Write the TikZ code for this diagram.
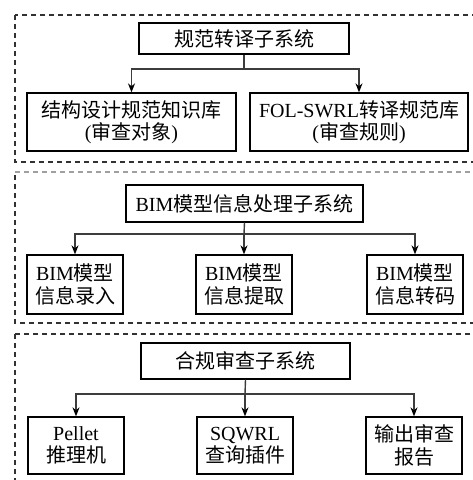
\documentclass[tikz,border=0pt]{standalone}
\usepackage{fontspec}
\setmainfont{Liberation Serif}
\newfontfamily\cjk{Noto Sans CJK SC}
\newcommand{\zh}[1]{{\cjk #1}}
\usetikzlibrary{arrows.meta}
\definecolor{linegray}{RGB}{60, 60, 60}
\definecolor{framegray}{RGB}{50, 50, 50}
\definecolor{lightframe}{RGB}{160, 160, 160}

\begin{document}
\begin{tikzpicture}[x=1pt, y=-1pt,
    box/.style={draw, line width=1.3pt, align=center, inner sep=0pt,
        font=\fontsize{20}{22.5}\selectfont},
    link/.style={linegray, line width=1.4pt},
    arr/.style={link, -{Stealth[length=9pt, width=7pt, black]}},
    frame/.style={framegray, line width=1.2pt, dash pattern=on 5pt off 4pt}]
    % Recorte da figura
    \clip (0,0) rectangle (473,480);
    \fill[white] (0,0) rectangle (473,480);

    % Molduras tracejadas
    \draw[frame] (15,15) rectangle (495,162);
    \draw[frame] (495,172) -- (495,323) -- (15,323) -- (15,172);
    \draw[frame, lightframe] (15,172) -- (495,172);
    \draw[frame] (15,334) rectangle (495,500);

    % Subsistema de tradução das normas
    \node[box, minimum width=210pt, minimum height=31pt] (trad) at (244,38.5) {\zh{规范转译子系统}};
    \node[box, minimum width=209pt, minimum height=58pt] (conh) at (131.5,122) {\zh{结构设计规范知识库}\\(\zh{审查对象})};
    \node[box, minimum width=218pt, minimum height=58pt] (regr) at (359,122) {FOL-SWRL\zh{转译规范库}\\(\zh{审查规则})};
    \coordinate (jtrad) at (244,69);
    \draw[link] (trad.south) -- (jtrad);
    \draw[arr] (jtrad) -| (conh.north);
    \draw[arr] (jtrad) -| (regr.north);

    % Subsistema de informação do modelo BIM
    \node[box, minimum width=237pt, minimum height=37pt] (bim) at (244.5,203.5) {BIM\zh{模型信息处理子系统}};
    \node[box, minimum width=96pt, minimum height=59pt] (entr) at (75,284.5) {BIM\zh{模型}\\\zh{信息录入}};
    \node[box, minimum width=96pt, minimum height=59pt] (extr) at (244,284.5) {BIM\zh{模型}\\\zh{信息提取}};
    \node[box, minimum width=96pt, minimum height=59pt] (conv) at (415,284.5) {BIM\zh{模型}\\\zh{信息转码}};
    \coordinate (jbim) at (244,234);
    \draw[link] (bim.south) -- (jbim);
    \draw[arr] (jbim) -| (entr.north);
    \draw[arr] (jbim) -- (extr.north);
    \draw[arr] (jbim) -| (conv.north);

    % Subsistema de verificação de conformidade
    \node[box, minimum width=209pt, minimum height=36pt] (verif) at (245.5,361) {\zh{合规审查子系统}};
    \node[box, minimum width=96pt, minimum height=57pt] (pell) at (76,445.5) {Pellet\\\zh{推理机}};
    \node[box, minimum width=96pt, minimum height=57pt] (sqw) at (245,445.5) {SQWRL\\\zh{查询插件}};
    \node[box, minimum width=96pt, minimum height=57pt] (rel) at (414,445.5) {\zh{输出审查}\\\zh{报告}};
    \coordinate (jverif) at (245,394);
    \draw[link] (verif.south) -- (jverif);
    \draw[arr] (jverif) -| (pell.north);
    \draw[arr] (jverif) -- (sqw.north);
    \draw[arr] (jverif) -| (rel.north);
\end{tikzpicture}
\end{document}
